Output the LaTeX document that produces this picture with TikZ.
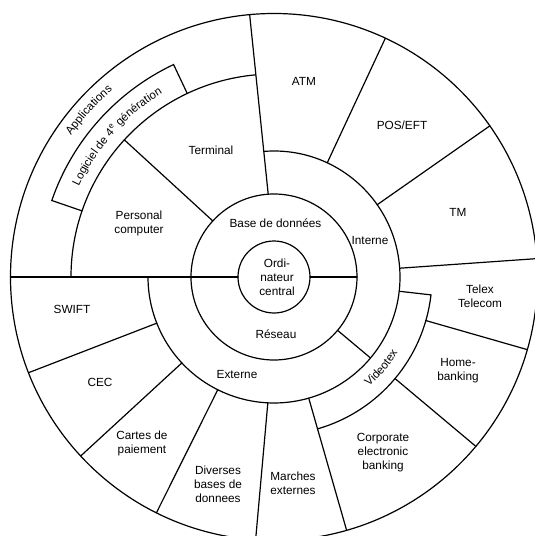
\documentclass[tikz,border=0pt]{standalone}
\usepackage{fontspec}
\setmainfont{Liberation Sans}
\usetikzlibrary{decorations.text}
\begin{document}
\begin{tikzpicture}[x=1pt,y=1pt,
  ring/.style={line width=1.2pt, line cap=round},
  lbl/.style={font=\fontsize{11.8}{14}\selectfont, align=center, inner sep=0pt},
]
\useasboundingbox (-274,-259) rectangle (261,277);
\fill[white] (-274,-259) rectangle (261,277);
\clip (-274,-259) rectangle (261,277);

% circles and arcs
\draw[ring] (0,0) circle[radius=36pt];
\draw[ring] (0,0) circle[radius=83pt];
\draw[ring] (0,0) circle[radius=263.5pt];
\draw[ring] (94.4:126pt) arc[start angle=94.4, end angle=-180, radius=126pt];
\draw[ring] (95.2:203pt) arc[start angle=95.2, end angle=180, radius=203pt];
% Logiciel box
\draw[ring] (115.3:203pt) -- (115.3:235pt) arc[start angle=115.3, end angle=161, radius=235pt] -- (161:203pt);
% Videotex box
\draw[ring] (-6.5:126pt) -- (-6.5:158pt) arc[start angle=-6.5, end angle=-74, radius=158pt];

% radial lines
\draw[ring] (180:36pt) -- (180:263.5pt);
\draw[ring] (0:36pt) -- (0:83pt);
\draw[ring] (94:83pt) -- (95.3:263.5pt);
\draw[ring] (137.5:83pt) -- (137.5:203pt);
\draw[ring] (65:126pt) -- (65:263.5pt);
\draw[ring] (35:126pt) -- (35:263.5pt);
\draw[ring] (4:126pt) -- (4:263.5pt);
\draw[ring] (-16:158pt) -- (-16:263.5pt);
\draw[ring] (-40:158pt) -- (-40:263.5pt);
\draw[ring] (-74:126pt) -- (-74:263.5pt);
\draw[ring] (-92.8:126pt) -- (-94:263.5pt);
\draw[ring] (-116.5:126pt) -- (-116.5:263.5pt);
\draw[ring] (-137:126pt) -- (-137.2:263.5pt);
\draw[ring] (-158.5:126pt) -- (-158.7:263.5pt);
\draw[ring] (-40:83pt) -- (-40:126pt);

% curved labels
\path[decorate, decoration={text along path, text align=center,
  text={|\fontsize{11.5}{14}\selectfont|Logiciel de 4{\textsuperscript{e}} génération}}]
  (161:215pt) arc[start angle=161, end angle=115.3, radius=215pt];
\path[decorate, decoration={text along path, text align=center,
  text={|\fontsize{11.5}{14}\selectfont|Applications}}]
  (155:247pt) arc[start angle=155, end angle=121, radius=247pt];
\path[decorate, decoration={text along path, text align=center,
  text={|\fontsize{11.5}{14}\selectfont|Videotex}}]
  (-74:145pt) arc[start angle=-74, end angle=-6.5, radius=145pt];

% labels
\node[lbl] (ordi) at (3,0) {\fontsize{11.8}{15}\selectfont Ordi-\\nateur\\central};
\node[lbl] (base) at (1.5,54) {Base de données};
\node[lbl] (reseau) at (2,-57) {Réseau};
\node[lbl] (interne) at (96,37) {Interne};
\node[lbl] (externe) at (-37,-97) {Externe};
\node[lbl] (terminal) at (-63,127) {Terminal};
\node[lbl] (pc) at (-135,54) {Personal\\computer};
\node[lbl] (atm) at (30,196) {ATM};
\node[lbl] (pos) at (128,152) {POS/EFT};
\node[lbl] (tm) at (184,65) {TM};
\node[lbl] (telex) at (206,-19) {Telex\\Telecom};
\node[lbl] (home) at (184,-94) {Home-\\banking};
\node[lbl] (corp) at (109,-176) {Corporate\\electronic\\banking};
\node[lbl] (marches) at (19,-206) {Marches\\externes};
\node[lbl] (diverses) at (-56,-207) {Diverses\\bases de\\donnees};
\node[lbl] (cartes) at (-132,-166) {Cartes de\\paiement};
\node[lbl] (cec) at (-174,-105) {CEC};
\node[lbl] (swift) at (-202,-32) {SWIFT};
\end{tikzpicture}
\end{document}
